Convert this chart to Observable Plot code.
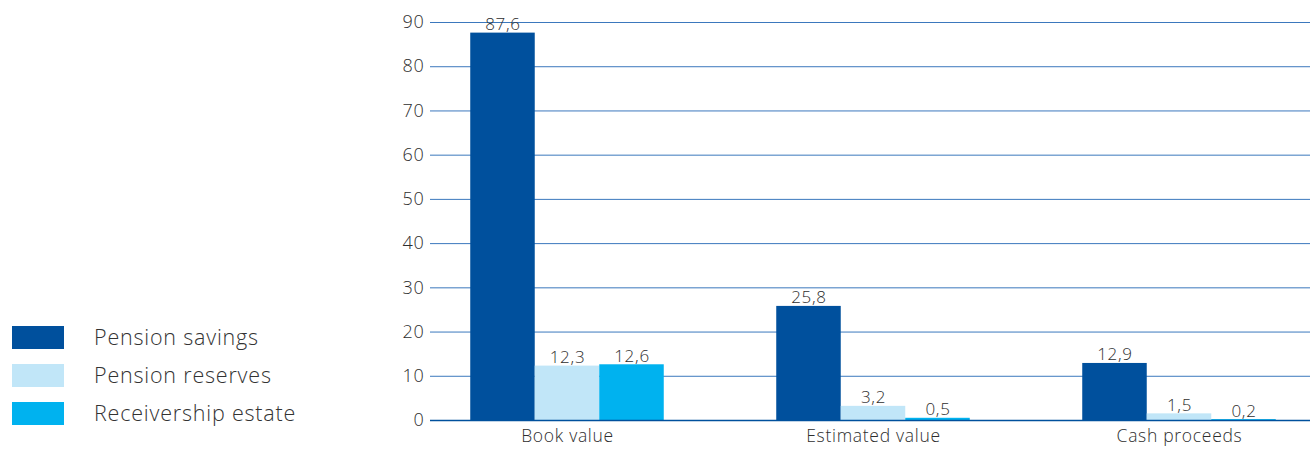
<!DOCTYPE html>
<html><head><meta charset="utf-8">
<script src="https://cdn.jsdelivr.net/npm/d3@7"></script>
<script src="https://cdn.jsdelivr.net/npm/@observablehq/plot@0.6"></script>
<style>
body{margin:0;background:#fff;font-family:"Open Sans",Lato,sans-serif;}
#wrap{position:relative;width:1310px;height:449px;}
#legend{position:absolute;left:12px;top:318px;}
.item{display:flex;align-items:center;height:38px;}
.sw{width:52px;height:23px;margin-right:30px;}
.lab{font-size:21.5px;font-weight:300;color:#333;letter-spacing:0.8px;line-height:38px;}
</style></head>
<body><div id="wrap"><div id="chart"></div><div id="legend"></div></div>
<script>
const categories = ["Book value", "Estimated value", "Cash proceeds"];
const series = ["Pension savings", "Pension reserves", "Receivership estate"];
const pensionSavings = [87.6, 25.8, 12.9];
const pensionReserves = [12.3, 3.2, 1.5];
const receivershipEstate = [12.6, 0.5, 0.2];
const colors = ["#00509d", "#c1e6f8", "#00b2ef"];
const yTicks = [0, 10, 20, 30, 40, 50, 60, 70, 80, 90];

const values = [pensionSavings, pensionReserves, receivershipEstate];
const bw = 0.2108;
const rows = [];
categories.forEach((c, gi) => series.forEach((s, si) => {
  const x1 = gi + (si - 1.5) * bw;
  rows.push({category: c, series: s, value: values[si][gi], x1, x2: x1 + bw, xm: x1 + bw / 2});
}));
const fmt = v => d3.format(".1f")(v).replace(".", ",");

const chart = Plot.plot({
  width: 1310, height: 449,
  marginLeft: 430, marginRight: 0, marginTop: 22, marginBottom: 29,
  style: {fontFamily: "'Open Sans', Lato, sans-serif", fontWeight: 300, color: "#2e2e2e", background: "transparent", letterSpacing: "0.7px"},
  x: {type: "linear", domain: [-0.4477, 2.4281], ticks: [0, 1, 2], tickFormat: i => categories[i], tickSize: 0, tickPadding: 9, label: null},
  y: {domain: [0, 90], ticks: yTicks, tickSize: 0, tickPadding: 6, label: null},
  color: {domain: series, range: colors},
  marks: [
    Plot.ruleY(yTicks.filter(t => t > 0), {stroke: "#3b78bd", strokeWidth: 1}),
    Plot.rectY(rows, {x1: "x1", x2: "x2", y: "value", fill: "series"}),
    Plot.ruleY([0], {stroke: "#00509d", strokeWidth: 1.5}),
    Plot.text(rows, {x: "xm", y: "value", text: d => fmt(d.value), lineAnchor: "bottom", dy: -3, fontSize: 17, fill: "#2e2e2e"})
  ]
});
chart.querySelectorAll("g[aria-label='y-axis tick label'] text, g[aria-label='y-axis'] text").forEach(t => t.style.fontSize = "18px");
chart.querySelectorAll("g[aria-label='x-axis tick label'] text, g[aria-label='x-axis'] text").forEach(t => t.style.fontSize = "17.5px");
document.getElementById("chart").appendChild(chart);

const leg = document.getElementById("legend");
series.forEach((s, i) => {
  const d = document.createElement("div"); d.className = "item";
  d.innerHTML = `<div class="sw" style="background:${colors[i]}"></div><div class="lab">${s}</div>`;
  leg.appendChild(d);
});
</script></body></html>
